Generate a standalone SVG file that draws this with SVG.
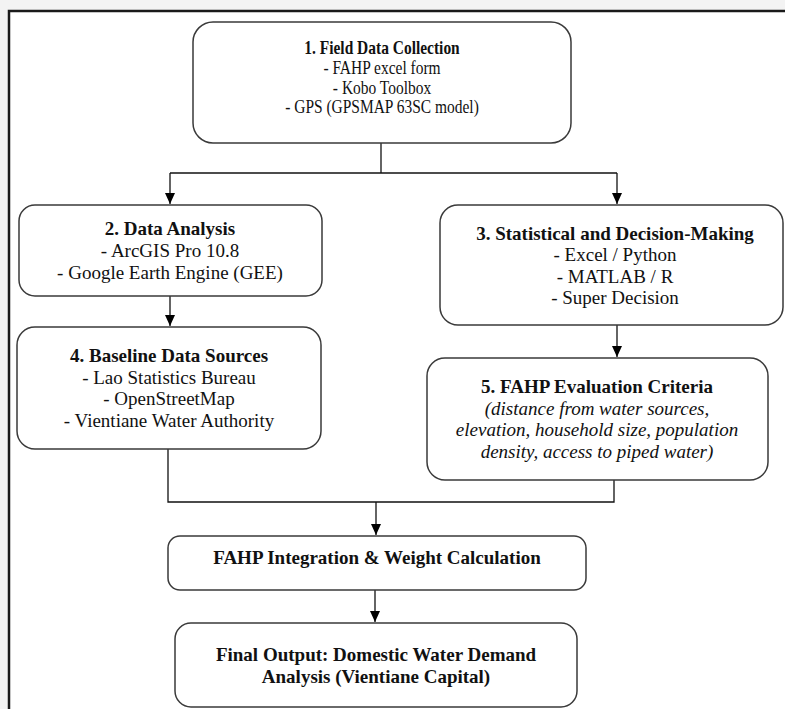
<svg xmlns="http://www.w3.org/2000/svg" width="785" height="709" viewBox="0 0 785 709">
<style>
.box{fill:#fff;stroke:#3a3a3a;stroke-width:1.5}
.t{font-family:"Liberation Serif","Times New Roman",serif;font-size:19px;fill:#111;text-anchor:middle}
.s{font-size:18px}
.b{font-weight:bold}
.i{font-style:italic}
.c{fill:none;stroke:#111;stroke-width:1.3}
</style>
<defs>
<marker id="ah" markerWidth="12" markerHeight="12" refX="11" refY="5" orient="auto" markerUnits="userSpaceOnUse">
<path d="M0,0 L11,5 L0,10 Z" fill="#000"/>
</marker>
</defs>
<rect x="0" y="0" width="785" height="709" fill="#f3f3f3"/>
<rect x="9" y="11" width="800" height="720" fill="#fff" stroke="#1a1a1a" stroke-width="2.5"/>
<g id="connectors">
<path class="c" d="M381,143 V173"/>
<path class="c" d="M170,173 H617"/>
<path class="c" d="M170,173 V204" marker-end="url(#ah)"/>
<path class="c" d="M617,173 V204" marker-end="url(#ah)"/>
<path class="c" d="M170,296 V326" marker-end="url(#ah)"/>
<path class="c" d="M617,325 V357" marker-end="url(#ah)"/>
<path class="c" d="M168,449 V502 H614 V480"/>
<path class="c" d="M376,502 V535" marker-end="url(#ah)"/>
<path class="c" d="M375,590 V622" marker-end="url(#ah)"/>
</g>
<g id="n1">
<rect class="box" x="193" y="22" width="378" height="121" rx="20"/>
<g transform="translate(382,0) scale(0.86,1)">
<text class="t s b" x="0" y="54">1. Field Data Collection</text>
<text class="t s" x="0" y="74">- FAHP excel form</text>
<text class="t s" x="0" y="94">- Kobo Toolbox</text>
<text class="t s" x="0" y="113.5">- GPS (GPSMAP 63SC model)</text>
</g>
</g>
<g id="n2">
<rect class="box" x="19" y="205" width="303" height="91" rx="16"/>
<text class="t b" x="170" y="235">2. Data Analysis</text>
<text class="t" x="170" y="257">- ArcGIS Pro 10.8</text>
<text class="t" x="170" y="279">- Google Earth Engine (GEE)</text>
</g>
<g id="n3">
<rect class="box" x="440" y="205" width="343" height="120" rx="18"/>
<text class="t b" x="615" y="240">3. Statistical and Decision-Making</text>
<text class="t" x="615" y="261">- Excel / Python</text>
<text class="t" x="615" y="283">- MATLAB / R</text>
<text class="t" x="615" y="304">- Super Decision</text>
</g>
<g id="n4">
<rect class="box" x="17" y="327" width="304" height="122" rx="18"/>
<text class="t b" x="169" y="362">4. Baseline Data Sources</text>
<text class="t" x="169" y="384">- Lao Statistics Bureau</text>
<text class="t" x="169" y="405">- OpenStreetMap</text>
<text class="t" x="169" y="427">- Vientiane Water Authority</text>
</g>
<g id="n5">
<rect class="box" x="427" y="358" width="341" height="122" rx="18"/>
<text class="t b" x="597" y="393">5. FAHP Evaluation Criteria</text>
<text class="t i" x="597" y="415">(distance from water sources,</text>
<text class="t i" x="597" y="436">elevation, household size, population</text>
<text class="t i" x="597" y="458">density, access to piped water)</text>
</g>
<g id="n6">
<rect class="box" x="168" y="536" width="418" height="54" rx="12"/>
<text class="t b" x="377" y="564">FAHP Integration &amp; Weight Calculation</text>
</g>
<g id="n7">
<rect class="box" x="175" y="623" width="402" height="84" rx="16"/>
<text class="t b" x="376" y="661">Final Output: Domestic Water Demand</text>
<text class="t b" x="376" y="683">Analysis (Vientiane Capital)</text>
</g>
</svg>
